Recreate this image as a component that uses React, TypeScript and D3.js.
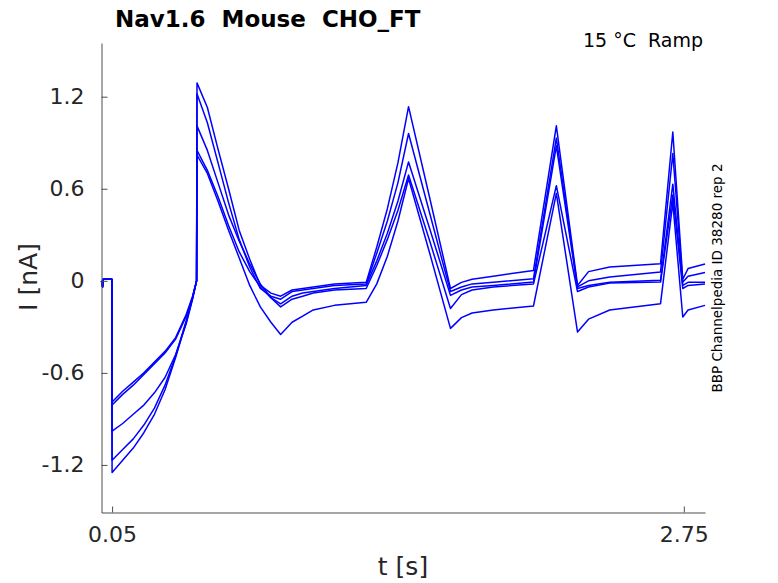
import React, { useEffect, useRef } from 'react';
import * as d3 from 'd3';

// sample times [s], shared by the five sweeps
const times = [
  0, 0.005, 0.008, 0.049, 0.05, 0.1, 0.15, 0.2, 0.25, 0.3, 0.35, 0.4, 0.43, 0.449, 0.451,
  0.5, 0.55, 0.6, 0.65, 0.7, 0.75, 0.8, 0.846, 0.9, 0.95, 1.0, 1.1, 1.25,
  1.3, 1.35, 1.4, 1.45, 1.55, 1.648, 1.7, 1.75, 1.85, 2.04,
  2.148, 2.248, 2.3, 2.4, 2.64, 2.698, 2.745, 2.77, 2.85,
];

// current [nA] per sweep
const sweepA = [
  0, -0.04, 0.01, 0.01, -0.79, -0.72, -0.66, -0.6, -0.53, -0.46, -0.37, -0.22, -0.1, 0, 0.82,
  0.7, 0.52, 0.33, 0.15, -0.03, -0.17, -0.27, -0.35, -0.27, -0.23, -0.19, -0.16, -0.14,
  -0.02, 0.16, 0.39, 0.667, 0.18, -0.31, -0.24, -0.21, -0.19, -0.164,
  0.57, -0.334, -0.25, -0.19, -0.149, 0.51, -0.236, -0.19, -0.16,
];
const sweepB = [
  0, -0.04, 0.01, 0.01, -0.81, -0.74, -0.68, -0.61, -0.54, -0.47, -0.38, -0.23, -0.11, 0, 0.85,
  0.72, 0.55, 0.36, 0.19, 0.06, -0.04, -0.11, -0.17, -0.12, -0.1, -0.08, -0.06, -0.05,
  0.1, 0.27, 0.46, 0.69, 0.26, -0.18, -0.09, -0.06, -0.04, -0.02,
  0.62, -0.07, -0.04, -0.015, -0.008, 0.56, -0.05, -0.03, -0.02,
];
const sweepC = [
  0, -0.04, 0.01, 0.01, -0.98, -0.93, -0.87, -0.81, -0.73, -0.63, -0.48, -0.28, -0.12, 0, 1.01,
  0.85, 0.64, 0.43, 0.26, 0.11, -0.02, -0.11, -0.15, -0.1, -0.08, -0.07, -0.05, -0.03,
  0.13, 0.31, 0.52, 0.775, 0.34, -0.095, -0.06, -0.04, -0.03, -0.008,
  0.88, -0.05, -0.03, -0.01, 0.003, 0.63, -0.03, -0.01, -0.01,
];
const sweepD = [
  0, -0.04, 0.01, 0.01, -1.17, -1.1, -1.03, -0.94, -0.83, -0.68, -0.49, -0.26, -0.11, 0, 1.22,
  1.03, 0.77, 0.51, 0.27, 0.09, -0.05, -0.1, -0.12, -0.07, -0.06, -0.05, -0.03, -0.02,
  0.18, 0.39, 0.64, 0.96, 0.44, -0.07, -0.04, -0.02, -0.01, 0.014,
  0.93, -0.04, 0.0, 0.025, 0.057, 0.83, -0.01, 0.03, 0.054,
];
const sweepE = [
  0, -0.04, 0.01, 0.01, -1.25, -1.17, -1.09, -0.99, -0.87, -0.71, -0.5, -0.27, -0.11, 0, 1.29,
  1.13, 0.86, 0.6, 0.33, 0.14, -0.03, -0.08, -0.1, -0.06, -0.05, -0.04, -0.02, -0.01,
  0.22, 0.47, 0.77, 1.135, 0.54, -0.05, -0.01, 0.01, 0.03, 0.068,
  1.01, -0.03, 0.06, 0.09, 0.112, 0.97, 0.01, 0.08, 0.11,
];

const sweeps = [sweepA, sweepB, sweepC, sweepD, sweepE];
const xTicks = [0.05, 2.75];
const yTicks = [-1.2, -0.6, 0, 0.6, 1.2];

const W = 778;
const H = 583;
const FONT = 'DejaVu Sans, sans-serif';

export default function App() {
  const svgRef = useRef<SVGSVGElement>(null);

  useEffect(() => {
    if (!svgRef.current) return;
    const svg = d3.select(svgRef.current);
    svg.selectAll('*').remove();

    const x = d3.scaleLinear().domain([0, 2.85]).range([101.5, 705]);
    const y = d3.scaleLinear().domain([-1.51, 1.55]).range([512.5, 43]);

    // traces
    const line = d3.line<number>()
      .x((_, i) => x(times[i]))
      .y(d => y(d));

    sweeps.forEach(s => {
      svg.append('path')
        .datum(s)
        .attr('fill', 'none')
        .attr('stroke', '#0000ff')
        .attr('stroke-width', 1.5)
        .attr('stroke-linejoin', 'round')
        .attr('d', line);
    });

    // axes
    const gx = svg.append('g')
      .attr('transform', `translate(0,${y.range()[0]})`)
      .call(d3.axisBottom(x).tickValues(xTicks).tickSizeInner(-6).tickSizeOuter(0)
        .tickPadding(14).tickFormat(d => String(d)));
    const gy = svg.append('g')
      .attr('transform', `translate(${x.range()[0]},0)`)
      .call(d3.axisLeft(y).tickValues(yTicks).tickSizeInner(-6).tickSizeOuter(0)
        .tickPadding(17).tickFormat(d => String(d)));

    [gx, gy].forEach(g => {
      g.select('.domain').attr('stroke', '#4d4d4d');
      g.selectAll('.tick line').attr('stroke', '#4d4d4d');
      g.selectAll('.tick text')
        .attr('fill', '#262626')
        .attr('font-size', 22)
        .attr('font-family', FONT);
    });
  }, []);

  return (
    <svg width={W} height={H} style={{ position: 'absolute', left: 0, top: 0, background: '#fff' }}
      fontFamily={FONT}>
      <g ref={svgRef as any} />
      <text x={115} y={27} fontSize={23} fontWeight="bold" fill="#000" style={{ whiteSpace: 'pre' }}>
        {'Nav1.6  Mouse  CHO_FT'}
      </text>
      <text x={703} y={47} fontSize={19} textAnchor="end" fill="#000" style={{ whiteSpace: 'pre' }}>
        {'15 °C  Ramp'}
      </text>
      <text transform="translate(722,278) rotate(-90)" fontSize={13.5} textAnchor="middle" fill="#000">
        BBP Channelpedia ID 38280 rep 2
      </text>
      <text transform="translate(37,277) rotate(-90)" fontSize={25} textAnchor="middle" fill="#262626">
        I [nA]
      </text>
      <text x={403} y={575} fontSize={25} textAnchor="middle" fill="#262626">
        t [s]
      </text>
    </svg>
  );
}
